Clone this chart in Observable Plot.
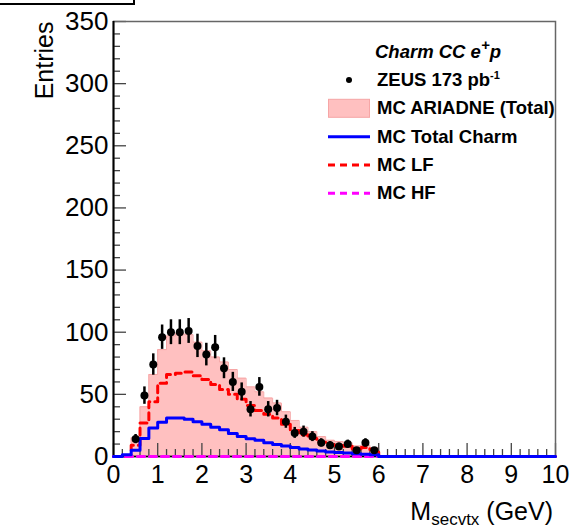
<!DOCTYPE html>
<html><head><meta charset="utf-8">
<script src="https://cdn.jsdelivr.net/npm/d3@7"></script>
<script src="https://cdn.jsdelivr.net/npm/@observablehq/plot@0.6"></script>
<style>
body{margin:0;background:#fff;font-family:"Liberation Sans",Arial,sans-serif;}
#wrap{position:relative;width:576px;height:530px;overflow:hidden;}
#stat{position:absolute;left:-2px;top:-10px;width:133px;height:11px;border:2px solid #000;}
#legend{position:absolute;left:0;top:0;}
</style></head><body><div id="wrap"><div id="stat"></div></div>
<script>
// ZEUS data points (bin centres, GeV), entries and errors
const dataX = [0.5,0.7,0.9,1.1,1.3,1.5,1.7,1.9,2.1,2.3,2.5,2.7,2.9,3.1,3.3,3.5,3.7,3.9,4.1,4.3,4.5,4.7,4.9,5.1,5.3,5.5,5.7,5.9];
const dataY = [14,49,74,96,100,100,101,89,82,88,71,60,52,38,56,38,39,28,19,20,16,11,9,8,10,5,11,5];
const dataErr = [3.7,7,8.6,9.8,10,10,10,9.4,9.1,9.4,8.4,7.7,7.2,6.2,7.5,6.2,6.2,5.3,4.4,4.5,4,3.3,3,2.8,3.2,2.2,3.3,2.2];

// MC histograms, 50 bins of 0.2 GeV from 0 to 10
const binWidth = 0.2;
const mcTotal = [0,1.5,15,40,66,86,97,99,98,92,85,80,76,70,63,56,52,47,43,36,29,23.5,20,16,13,12,11,8.5,9,7,
  0,0,0,0,0,0,0,0,0,0,0,0,0,0,0,0,0,0,0,0];
const mcLF = [0,0,9,27,44,59,66,67,68,65,62,58,54,50,46,41,37,34,31,26,21,17.5,14.5,11.5,9.5,8.8,8.2,6.3,7.2,5.6,
  0,0,0,0,0,0,0,0,0,0,0,0,0,0,0,0,0,0,0,0];
const mcCharm = [0,1.5,5,14.5,23,27.5,31,31,30,28,26,23.5,21.5,18.5,16,14.2,13,11,9.6,8.4,7.2,6,5.2,4.4,3.6,3.2,2.8,2.2,1.8,1.4,
  0,0,0,0,0,0,0,0,0,0,0,0,0,0,0,0,0,0,0,0];
const mcHF = [0,0,0,0,0,0,0,0,0,0,0,0,0,0,0,0,0,0,0,0,0,0,0,0,0,0,0,0,0,0,
  0,0,0,0,0,0,0,0,0,0,0,0,0,0,0,0,0,0,0,0];

// axes
const xTicks = [0,1,2,3,4,5,6,7,8,9,10];
const yTicks = [0,50,100,150,200,250,300,350];
const xMinor = d3.range(0, 50).map(i => +(i * 0.2).toFixed(1)).filter(v => !xTicks.includes(v));
const yMinor = d3.range(0, 35).map(i => i * 10).filter(v => !yTicks.includes(v));

// legend
const legendTitle = "Charm CC e";
const legendLabels = ["ZEUS 173 pb", "MC ARIADNE (Total)", "MC Total Charm", "MC LF", "MC HF"];

const points = dataX.map((x, i) => ({x, y: dataY[i], e: dataErr[i]}));
function steps(vals) {
  const out = vals.map((v, i) => ({x: +(i * binWidth).toFixed(1), y: v}));
  out.push({x: +(vals.length * binWidth).toFixed(1), y: vals[vals.length - 1]});
  return out;
}

const W = 576, H = 530, mT = 21, mL = 113, mR = 21, mB = 74;
const pw = W - mL - mR, ph = H - mT - mB;

const chart = Plot.plot({
  width: W, height: H,
  marginTop: mT, marginLeft: mL, marginRight: mR, marginBottom: mB,
  x: {domain: [0, 10], label: null, axis: null},
  y: {domain: [0, 350], label: null, axis: null},
  style: {fontFamily: "'Liberation Sans', Arial, sans-serif", background: "transparent", color: "#000"},
  marks: [
    Plot.areaY(steps(mcTotal), {x: "x", y: "y", curve: "step-after", fill: "#ffc0c0"}),
    Plot.line(steps(mcTotal), {x: "x", y: "y", curve: "step-after", stroke: "#f6a6a6", strokeWidth: 1}),
    Plot.tickX(xMinor, {x: d => d, insetTop: ph - 7, stroke: "#444", strokeWidth: 1.3}),
    Plot.tickX(xTicks, {x: d => d, insetTop: ph - 13, stroke: "#444", strokeWidth: 1.3}),
    Plot.tickY(yMinor, {y: d => d, insetRight: pw - 7, stroke: "#444", strokeWidth: 1.3}),
    Plot.tickY(yTicks, {y: d => d, insetRight: pw - 13, stroke: "#444", strokeWidth: 1.3}),
    Plot.frame({stroke: "#666", strokeWidth: 1.5}),
    Plot.ruleX([0], {stroke: "#000", strokeWidth: 2}),
    Plot.ruleY([0], {stroke: "#000", strokeWidth: 1.5}),
    Plot.axisX(xTicks, {tickSize: 0, tickPadding: 9, fontSize: 25, label: null, tickFormat: d => String(d)}),
    Plot.axisY(yTicks, {tickSize: 0, tickPadding: 5, fontSize: 26, label: null, tickFormat: d => String(d)}),
    Plot.line(steps(mcLF), {x: "x", y: "y", curve: "step-after", stroke: "#ff0000", strokeWidth: 3, strokeDasharray: "7,5"}),
    Plot.line(steps(mcHF), {x: "x", y: "y", curve: "step-after", stroke: "#ff00ff", strokeWidth: 3, strokeDasharray: "7,5"}),
    Plot.line(steps(mcCharm), {x: "x", y: "y", curve: "step-after", stroke: "#0000ff", strokeWidth: 3}),
    Plot.ruleX(points, {x: "x", y1: d => d.y - d.e, y2: d => d.y + d.e, stroke: "#000", strokeWidth: 2.5}),
    Plot.dot(points, {x: "x", y: "y", r: 4, fill: "#000", stroke: null}),
    Plot.text(["Entries"], {frameAnchor: "top-left", dx: -69, dy: 0, rotate: -90, textAnchor: "end", lineAnchor: "middle", fontSize: 25})
  ]
});
document.getElementById("wrap").appendChild(chart);

// x-axis title with subscript
const svg = d3.select(chart);
const xl = svg.append("text").attr("x", W - 23).attr("y", 520).attr("text-anchor", "end")
  .attr("font-size", 25).attr("fill", "#000");
xl.append("tspan").text("M");
xl.append("tspan").attr("font-size", 17).attr("dy", 5).text("secvtx");
xl.append("tspan").attr("dy", -5).text(" (GeV)");

// legend overlay
const lg = d3.select("#wrap").append("svg").attr("id", "legend").attr("width", W).attr("height", H)
  .style("font-family", "'Liberation Sans', Arial, sans-serif");
const tx = 377, rowY = [51.7, 80, 108.3, 136.7, 165, 193.3];
const t0 = lg.append("text").attr("x", 375).attr("y", rowY[0] + 6).attr("font-size", 18.5)
  .attr("font-weight", "bold").attr("font-style", "italic");
t0.append("tspan").text(legendTitle);
t0.append("tspan").attr("dy", -8).attr("font-size", 15).text("+");
t0.append("tspan").attr("dy", 8).text("p");
legendLabels.forEach((lab, i) => {
  const y = rowY[i + 1];
  const t = lg.append("text").attr("x", tx).attr("y", y + 6).attr("font-size", 18.5).attr("font-weight", "bold");
  t.append("tspan").text(lab);
  if (i === 0) t.append("tspan").attr("dy", -7).attr("font-size", 11).text("-1");
});
lg.append("circle").attr("cx", 349).attr("cy", rowY[1]).attr("r", 3).attr("fill", "#000");
lg.append("rect").attr("x", 328.5).attr("y", rowY[2] - 9).attr("width", 41).attr("height", 18)
  .attr("fill", "#ffc0c0").attr("stroke", "#f6a6a6");
lg.append("line").attr("x1", 328).attr("x2", 370).attr("y1", rowY[3]).attr("y2", rowY[3]).attr("stroke", "#0000ff").attr("stroke-width", 3);
lg.append("line").attr("x1", 328).attr("x2", 370).attr("y1", rowY[4]).attr("y2", rowY[4]).attr("stroke", "#ff0000").attr("stroke-width", 3).attr("stroke-dasharray", "7,5");
lg.append("line").attr("x1", 328).attr("x2", 370).attr("y1", rowY[5]).attr("y2", rowY[5]).attr("stroke", "#ff00ff").attr("stroke-width", 3).attr("stroke-dasharray", "7,5");
</script></body></html>
